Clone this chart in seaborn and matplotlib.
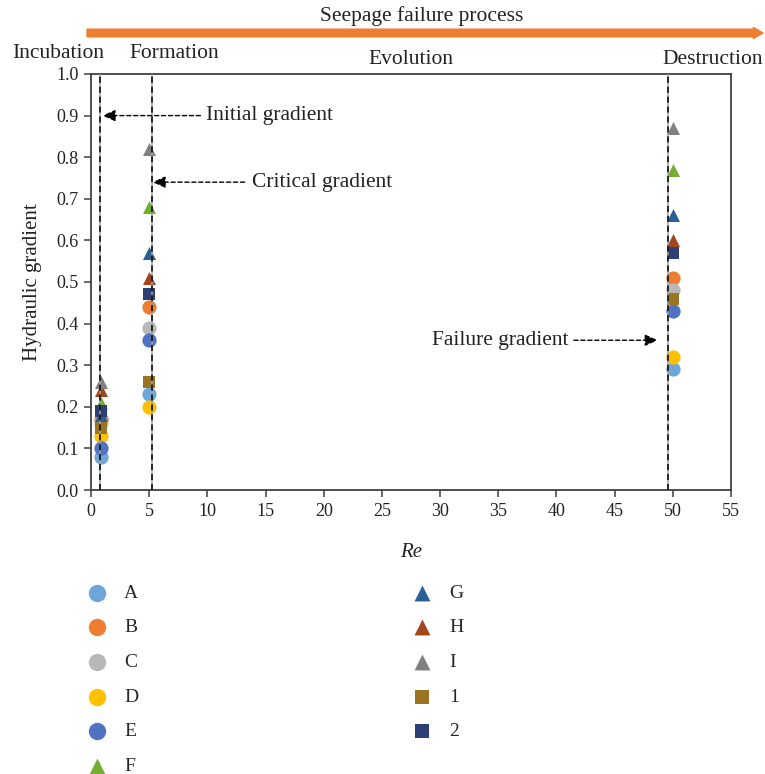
import matplotlib
matplotlib.use("Agg")
import matplotlib.pyplot as plt
from matplotlib.ticker import FormatStrFormatter, MultipleLocator
import seaborn as sns
import pandas as pd

# ---- data -------------------------------------------------------------
series = ["A", "B", "C", "D", "E", "F", "G", "H", "I", "1", "2"]
stage_re = [0.85, 5.0, 50.0]          # Re at which each gradient is reached
initial_gradient = [0.08, 0.17, 0.16, 0.13, 0.10, 0.21, 0.18, 0.24, 0.26, 0.15, 0.19]
critical_gradient = [0.23, 0.44, 0.39, 0.20, 0.36, 0.68, 0.57, 0.51, 0.82, 0.26, 0.47]
failure_gradient = [0.29, 0.51, 0.48, 0.32, 0.43, 0.77, 0.66, 0.60, 0.87, 0.46, 0.57]
boundary_re = [0.8, 5.2, 49.6]        # stage boundaries
stage_names = ["Incubation", "Formation", "Evolution", "Destruction"]

colors = ["#6FA6D9", "#ED7D31", "#B8B8B8", "#FFC000", "#4F72C2", "#74AE2E",
          "#2A5E96", "#A1461A", "#808080", "#9B7422", "#2D3F77"]
markers = ["o"] * 5 + ["^"] * 4 + ["s"] * 2
marker_area = {"o": 105, "^": 88, "s": 70}

rows = []
for i, name in enumerate(series):
    for re_val, g in zip(stage_re, (initial_gradient[i], critical_gradient[i], failure_gradient[i])):
        rows.append({"series": name, "Re": re_val, "gradient": g})
df = pd.DataFrame(rows)

# ---- style ------------------------------------------------------------
sns.set_theme(style="ticks")
plt.rcParams["font.family"] = ["Liberation Serif", "DejaVu Serif"]

W, H = 765, 774
fig = plt.figure(figsize=(W / 100, H / 100), dpi=100)
L, R, T, B = 91, 731, 74, 490
ax = fig.add_axes([L / W, 1 - B / H, (R - L) / W, (B - T) / H])

for i, name in enumerate(series):
    sub = df[df["series"] == name]
    sns.scatterplot(data=sub, x="Re", y="gradient", ax=ax, color=colors[i],
                    marker=markers[i], s=marker_area[markers[i]], linewidth=0,
                    label=name, legend=False)

# stage boundaries: grey line overlaid with black dashes
for xb in boundary_re:
    ax.axvline(xb, color="#a0a0a0", lw=1.1, zorder=3)
    ax.axvline(xb, color="black", lw=1.1, linestyle=(0, (4, 2.5)), zorder=3)

ax.set_xlim(0, 55)
ax.set_ylim(0, 1.0)
ax.xaxis.set_major_locator(MultipleLocator(5))
ax.yaxis.set_major_locator(MultipleLocator(0.1))
ax.yaxis.set_major_formatter(FormatStrFormatter("%.1f"))
ax.tick_params(direction="out", length=5, width=1.1, color="#404040",
               labelsize=13, labelcolor="#222222", pad=4)
for sp in ax.spines.values():
    sp.set_color("#404040")
    sp.set_linewidth(1.3)
ax.set_xlabel("Re", fontsize=15, style="italic", labelpad=17, color="#222222")
ax.set_ylabel("Hydraulic gradient", fontsize=15, labelpad=10, color="#222222")

# gradient annotations with dashed leaders
def dashed_arrow(tail, tip):
    ax.annotate("", xy=tip, xytext=tail,
                arrowprops=dict(arrowstyle="-|>,head_length=0.55,head_width=0.25",
                                linestyle=(0, (3, 2)), lw=1.0, color="black",
                                shrinkA=0, shrinkB=0, mutation_scale=14))

dashed_arrow((9.4, 0.90), (1.0, 0.90))
ax.text(9.9, 0.90, "Initial gradient", ha="left", va="center", fontsize=15.5, color="#222222")
dashed_arrow((13.2, 0.74), (5.3, 0.74))
ax.text(13.8, 0.74, "Critical gradient", ha="left", va="center", fontsize=15.5, color="#222222")
dashed_arrow((41.5, 0.36), (48.7, 0.36))
ax.text(41.0, 0.36, "Failure gradient", ha="right", va="center", fontsize=15.5, color="#222222")

# process arrow and stage names above the axes
ax.annotate("", xy=(763, H - 33), xycoords="figure pixels",
            xytext=(87, H - 33), textcoords="figure pixels",
            arrowprops=dict(arrowstyle="simple,head_length=0.7,head_width=0.8,tail_width=0.55",
                            color="#ED7D31", mutation_scale=10, shrinkA=0, shrinkB=0))
fig.text(422 / W, 1 - 16 / H, "Seepage failure process", ha="center", va="center",
         fontsize=15.5, color="#222222")
for name, xc, yc in zip(stage_names, [58, 174, 411, 713], [54, 54, 59, 59]):
    fig.text(xc / W, 1 - yc / H, name, ha="center", va="center", fontsize=15.5, color="#222222")

handles, labels = ax.get_legend_handles_labels()
fig.legend(handles, labels, ncol=2, frameon=False, loc="upper left",
           bbox_to_anchor=(87 / W, 1 - 584 / H), fontsize=14, markerscale=1.22,
           handlelength=1.0, handletextpad=0.9, columnspacing=14.1,
           labelspacing=0.88, borderpad=0, borderaxespad=0)

fig.savefig("out.png", dpi=100)
